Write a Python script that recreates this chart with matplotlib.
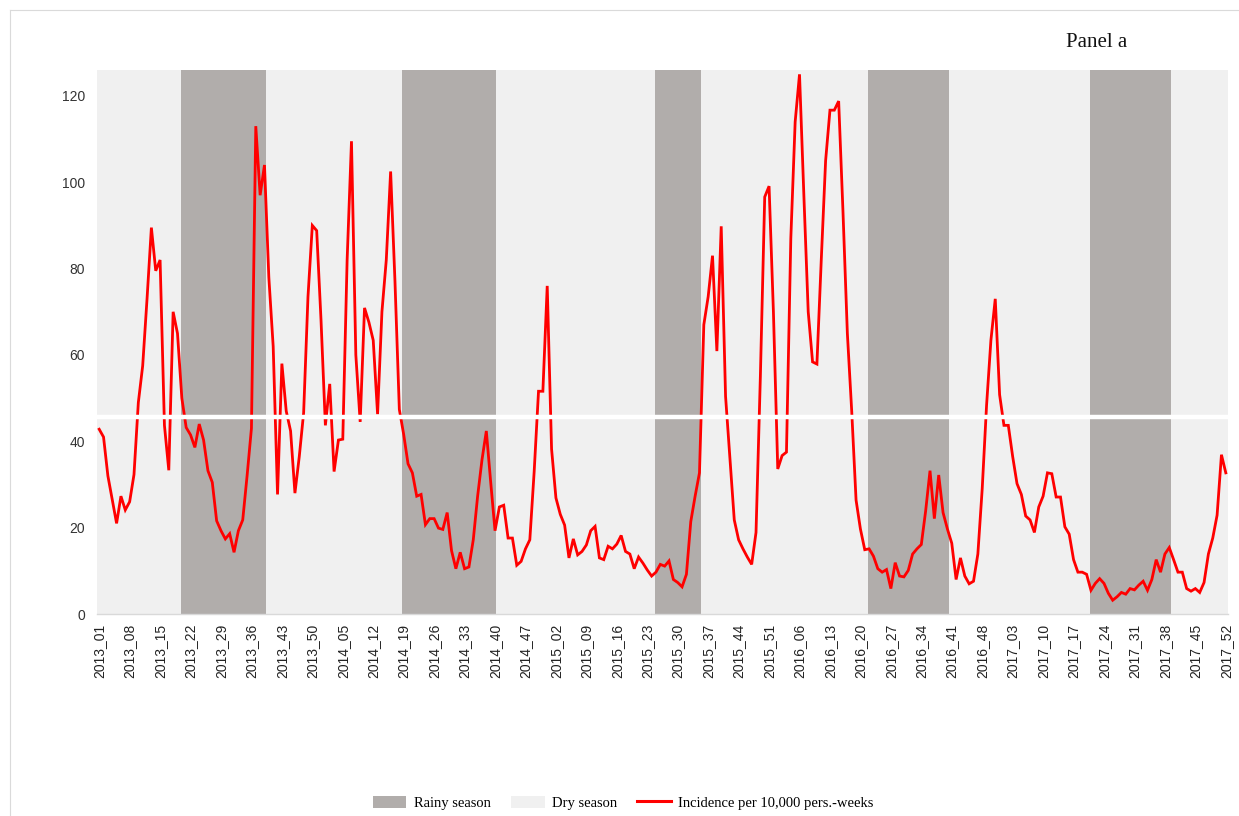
import matplotlib
matplotlib.use("Agg")
import matplotlib.pyplot as plt
from matplotlib.patches import Patch
from matplotlib.lines import Line2D

# Weekly categories 2013_01 ... 2017_52
years = [2013, 2014, 2015, 2016, 2017]
week_labels = [f"{y}_{w:02d}" for y in years for w in range(1, 53)]

# Incidence per 10,000 person-weeks, one value per week
incidence = [
    # 2013
    42.8, 41.0, 32.0, 26.5, 21.0, 27.3, 24.1, 26.0, 32.3, 49.0,
    57.5, 73.0, 89.5, 79.5, 82.0, 43.7, 33.3, 70.0, 65.0, 50.0,
    43.2, 41.5, 38.6, 44.0, 40.3, 33.2, 30.5, 21.6, 19.3, 17.4,
    18.6, 14.3, 19.3, 21.8, 32.0, 43.0, 113.0, 97.0, 104.0, 78.0,
    62.0, 27.7, 58.0, 47.0, 42.4, 28.0, 36.5, 46.6, 73.5, 90.0,
    88.8, 68.0,
    # 2014
    43.7, 53.3, 33.0, 40.3, 40.5, 82.0, 109.5, 60.0, 44.5, 70.9,
    67.6, 63.4, 46.3, 70.0, 82.0, 102.5, 77.0, 47.4, 41.6, 34.8,
    32.7, 27.3, 27.7, 20.7, 22.1, 22.1, 19.9, 19.6, 23.5, 14.7,
    10.5, 14.3, 10.5, 10.9, 17.2, 27.3, 35.7, 42.4, 30.6, 19.3,
    24.8, 25.2, 17.6, 17.6, 11.3, 12.2, 15.1, 17.2, 33.0, 51.6,
    51.6, 76.0,
    # 2015
    38.2, 26.9, 23.1, 20.6, 13.0, 17.4, 13.7, 14.5, 16.0, 19.3,
    20.3, 13.0, 12.6, 15.7, 15.1, 16.2, 18.2, 14.5, 13.9, 10.5,
    13.2, 11.8, 10.2, 8.8, 9.7, 11.5, 11.1, 12.3, 8.0, 7.3,
    6.3, 9.2, 21.4, 27.3, 32.7, 67.0, 73.5, 83.0, 60.9, 89.8,
    50.4, 36.0, 21.8, 17.2, 15.1, 13.2, 11.5, 18.9, 55.0, 96.6,
    99.1, 70.0,
    # 2016
    33.6, 36.7, 37.5, 87.0, 114.0, 125.0, 97.0, 70.0, 58.4, 57.9,
    82.0, 105.0, 116.7, 116.7, 118.8, 93.0, 65.0, 47.0, 26.4, 19.7,
    14.9, 15.1, 13.4, 10.5, 9.7, 10.3, 5.9, 11.9, 8.8, 8.6,
    10.1, 13.9, 15.1, 16.1, 23.9, 33.2, 22.1, 32.2, 23.5, 19.7,
    16.4, 8.0, 13.0, 8.8, 7.0, 7.6, 13.9, 29.0, 48.3, 63.4,
    73.0, 50.8,
    # 2017
    43.7, 43.7, 36.5, 30.2, 27.7, 22.7, 21.8, 18.9, 24.8, 27.3,
    32.7, 32.5, 27.1, 27.1, 20.2, 18.5, 12.6, 9.7, 9.7, 9.2,
    5.5, 7.1, 8.2, 7.1, 4.8, 3.2, 4.0, 5.0, 4.6, 5.9,
    5.6, 6.7, 7.6, 5.5, 8.0, 12.6, 9.7, 13.9, 15.4, 12.6,
    9.7, 9.7, 5.9, 5.3, 5.9, 5.0, 7.3, 13.9, 17.6, 22.9,
    36.9, 32.7,
]

# Rainy season spans (first week, last week)
rainy_seasons = [
    ("2013_20", "2013_39"),
    ("2014_19", "2014_40"),
    ("2015_25", "2015_35"),
    ("2016_22", "2016_40"),
    ("2017_21", "2017_39"),
]

y_ticks = [0, 20, 40, 60, 80, 100, 120]
tick_step = 7

rainy_color = "#B1ADAB"
dry_color = "#F0F0F0"
line_color = "#FF0000"

fig = plt.figure(figsize=(12.39, 8.16), dpi=100)

# thin chart-area frame along the top and left
fig.add_artist(Line2D([0.0081, 1.0], [0.9877, 0.9877], transform=fig.transFigure,
                      color="#DADADA", lw=0.8))
fig.add_artist(Line2D([0.0081, 0.0081], [0.0, 0.9877], transform=fig.transFigure,
                      color="#DADADA", lw=0.8))

ax = fig.add_axes([0.0783, 0.2475, 0.9128, 0.6667])

n = len(week_labels)
xs = list(range(n))

# dry season background, rainy season bands on top
ax.axvspan(-0.5, n - 0.5, color=dry_color, lw=0, zorder=0)
for start, end in rainy_seasons:
    i0 = week_labels.index(start)
    i1 = week_labels.index(end)
    ax.axvspan(i0 - 0.3, i1 + 0.3, color=rainy_color, lw=0, zorder=1)

ax.plot(xs, incidence, color=line_color, lw=2.0, zorder=3, solid_joinstyle="miter")

# horizontal break line across the plot area
ax.axhline(45.6, color="white", lw=3.2, zorder=4)

ax.set_xlim(-0.5, n - 0.5)
ax.set_ylim(0, 126)
ax.set_yticks(y_ticks)
ax.set_yticklabels([str(v) for v in y_ticks], fontsize=10, family="Liberation Sans",
                   color="#333333")
tick_idx = list(range(0, n, tick_step))
ax.set_xticks(tick_idx)
ax.set_xticklabels([week_labels[i] for i in tick_idx], rotation=90, fontsize=10,
                   family="Liberation Sans", color="#222222")
ax.tick_params(axis="both", length=0)
ax.tick_params(axis="x", pad=7)
ax.tick_params(axis="y", pad=8.5)

for side in ["top", "left", "right"]:
    ax.spines[side].set_visible(False)
ax.spines["bottom"].set_color("#D9D9D9")
ax.spines["bottom"].set_linewidth(1.0)

fig.text(0.860, 0.948, "Panel a", family="Liberation Serif", fontsize=15,
         color="#111111", va="center", ha="left")

handles = [
    Patch(facecolor=rainy_color, edgecolor="none", label="Rainy season"),
    Patch(facecolor=dry_color, edgecolor="none", label="Dry season"),
    Line2D([0], [0], color=line_color, lw=2.2, label="Incidence per 10,000 pers.-weeks"),
]
fig.legend(handles=handles, loc="center", bbox_to_anchor=(0.503, 0.016), ncol=3,
           frameon=False, prop={"family": "Liberation Serif", "size": 10.5},
           handlelength=2.3, handleheight=0.9, handletextpad=0.5, columnspacing=1.4)

fig.savefig("out.png", dpi=100, facecolor="white")
